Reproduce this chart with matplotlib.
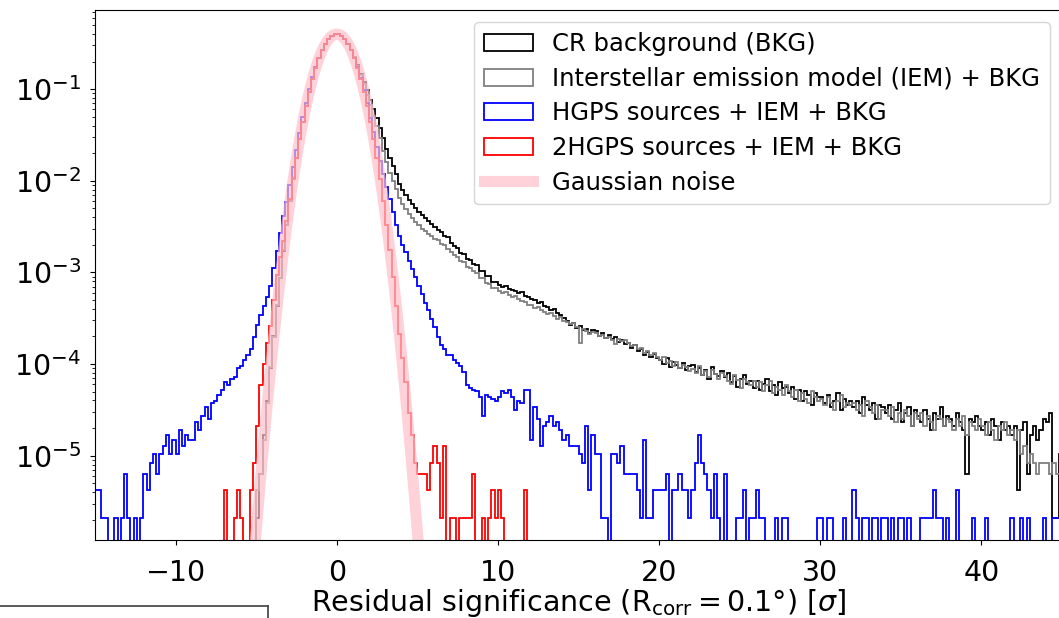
import numpy as np
import matplotlib
matplotlib.use("Agg")
import matplotlib.pyplot as plt
from matplotlib.lines import Line2D

plt.rcParams["font.size"] = 20.5

# histogram binning (significance, 0.2 sigma bins)
bin_edges = np.round(np.arange(-15.0, 45.0001, 0.2), 1)
density_per_count = 2.1e-6

# counts per bin
black_counts = (
    [0] * 49
    + [0, 1, 3, 8, 19, 43, 96, 205, 418, 822, 1560, 2841, 4970, 8355, 13500,
       20950, 31250, 44790, 61680, 81610, 103740, 126710, 148690, 167650, 181610, 189020]
    + [189020, 181610, 167850, 149290, 127910, 106140, 86370, 70250, 57170, 46010,
       36650, 29200, 23110, 17820, 13790, 10610, 8440, 6850, 5680, 4385,
       3800, 3350, 2960, 2675, 2380]
    + [2190, 2012, 1848, 1725, 1603, 1496, 1371, 1302, 1195, 1150, 1008, 922, 871,
       781, 752, 668, 655, 588, 571, 497, 492, 438, 431, 378, 372]
    + [348, 331, 339, 312, 305, 296, 281, 290, 266, 259,
       244, 238, 221, 226, 205, 198, 187, 190, 171, 162,
       153, 141, 128, 135, 119, 124, 112, 116, 104, 111,
       108, 97, 104, 92, 99, 89, 94, 83, 88, 79,
       80, 72, 76, 66, 69, 60, 64, 57, 61, 55,
       52, 48, 56, 44, 50, 47, 43, 49, 41, 45,
       46, 39, 43, 36, 41, 33, 44, 37, 35, 40,
       34, 38, 30, 35, 27, 33, 36, 29, 31, 26,
       31, 25, 29, 33, 24, 28, 22, 30, 26, 27,
       23, 27, 20, 25, 19, 24, 22, 17, 23, 21,
       21, 18, 22, 16, 19, 23, 15, 20, 17, 19,
       16, 19, 14, 21, 17, 15, 18, 12, 17, 16,
       14, 17, 12, 15, 18, 11, 14, 16, 10, 15,
       13, 11, 15, 12, 9, 14, 12, 16, 10, 13,
       12, 10, 14, 11, 9, 3, 12, 11, 13, 10,
       9, 11, 8, 12, 10, 7, 11, 9, 10, 8,
       10, 2, 9, 11, 3, 8, 10, 7, 9, 12,
       11, 14, 1, 1, 5]
)

gray_counts = (
    [0] * 49
    + [0, 2, 3, 7, 18, 44, 93, 208, 411, 829, 1549, 2852, 4955, 8371, 13480,
       20960, 31230, 44810, 61650, 81630, 103710, 126740, 148660, 167680, 181590, 189050]
    + [189030, 181600, 167790, 149110, 127550, 105420, 84900, 67680, 53490, 41550,
       31940, 24490, 18650, 13960, 10135, 7556, 5820, 4716, 3902, 3095,
       2642, 2318, 2058, 1853, 1681]
    + [1572, 1431, 1362, 1238, 1190, 1094, 1061, 978, 952, 866, 801, 728, 702,
       631, 611, 549, 534, 487, 470, 418, 409, 368, 356, 324, 318]
    + [301, 284, 292, 268, 259, 263, 241, 233, 226, 211,
       208, 196, 201, 183, 177, 169, 172, 158, 149, 154,
       141, 136, 129, 133, 121, 80, 116, 109, 101, 107,
       103, 96, 99, 91, 94, 87, 79, 90, 84, 86,
       80, 74, 77, 69, 71, 63, 66, 60, 62, 57,
       53, 57, 49, 51, 45, 50, 43, 47, 44, 40,
       42, 38, 45, 36, 40, 34, 41, 37, 33, 38,
       35, 31, 29, 36, 32, 26, 33, 30, 28, 31,
       27, 30, 24, 28, 31, 23, 27, 25, 22, 28,
       24, 21, 25, 19, 23, 20, 18, 24, 21, 19,
       20, 17, 21, 18, 15, 19, 22, 16, 18, 17,
       18, 15, 17, 13, 19, 16, 14, 17, 12, 15,
       15, 13, 16, 11, 14, 12, 15, 13, 10, 14,
       12, 14, 10, 13, 11, 9, 13, 12, 10, 12,
       11, 9, 12, 10, 13, 8, 11, 10, 9, 12,
       10, 8, 11, 9, 7, 10, 9, 11, 8, 9,
       7, 9, 5, 6, 4, 5, 4, 3, 4, 4,
       4, 3, 4, 3, 3]
)

blue_counts = (
    [2, 2, 1, 1, 0, 0, 1, 0, 1, 3, 1, 0, 1, 0, 1, 3, 2, 4, 5, 3,
     5, 6, 8, 5, 7, 5, 9, 6, 8, 7, 7, 11, 9, 13, 16, 12, 18, 19, 22, 25,
     30, 28, 33, 34, 43, 45, 52, 60, 70]
    + [95, 126, 163, 203, 258, 342, 525, 822, 1266, 1970, 2806, 4235, 6660,
       10350, 15800, 23400, 33950, 47300, 63900, 83400, 105100, 127700, 149300,
       167950, 181700, 189030]
    + [189030, 181700, 167900, 149200, 127500, 104900, 83300, 63600, 46900, 33600,
       23300, 16200, 11200, 7900, 5600, 4100, 3000, 2150, 1570, 1200,
       950, 790, 640, 520, 424, 340, 276, 221, 183, 148,
       121, 94, 77, 70, 60, 59, 53, 49, 45, 39,
       28, 26, 25, 24, 21, 13, 22, 21, 20, 19]
    + [21, 24, 23, 25, 21, 15, 19, 18, 25, 25,
       7, 16, 12, 6, 10, 11, 13, 10, 11, 9,
       7, 8, 6, 6, 6, 5, 4, 10, 2, 8,
       5, 5, 1, 1, 0, 5, 5, 4]
    + [6, 3, 3, 3, 3, 2, 1, 7, 1, 1, 2, 2, 2, 2, 3, 0, 2, 2, 3, 2,
       2, 1, 2, 4, 8, 4, 3, 2, 1, 3, 1, 0, 3, 0, 0, 0, 1, 1, 2, 0,
       1, 1, 2, 1, 1, 0, 0, 0, 1, 0, 1, 1, 0, 0, 0, 0, 0, 0, 0, 0,
       0, 1]
    + [1, 0, 1, 1, 0, 0, 0, 1, 0, 0, 2, 1, 0, 1, 1, 0, 1, 1, 0, 1,
       1, 0, 1, 0, 1, 1, 0, 1, 0, 0, 0, 1, 1, 1, 1, 2, 1, 1, 0, 1,
       0, 0, 2, 0, 0, 0, 0, 1, 0, 0, 0, 1, 0, 0, 0, 0, 0, 0, 0, 1,
       0, 0, 1, 0, 1, 0, 0, 0, 0, 1, 0, 0, 1, 1, 1]
)

red_counts = (
    [0] * 40
    + [2, 0, 0, 1, 2, 1, 0, 0, 2, 4, 10, 28, 48, 80, 125, 240, 450, 700, 1050, 1750,
       3000, 5100, 8450, 13550, 21000, 31300, 44800, 61700, 81600, 103700,
       126700, 148700, 167600, 181600, 189000]
    + [189000, 181600, 167700, 148700, 126700, 103800, 81600, 61700, 44800, 31300,
       21000, 13550, 8400, 5000, 2850, 1570, 830, 420, 205, 100,
       55, 30, 14, 8, 4, 3, 3, 3, 2, 4, 6, 4, 1, 6, 0, 1, 1, 0, 1, 1,
       1, 1, 3, 0, 0, 1, 0, 1, 2, 1, 2, 1, 0, 0, 0, 0, 0, 0, 2]
    + [0] * 166
)

# reference Gaussian noise curve
gauss_x = [-5.2, -5.0, -4.8, -4.6, -4.4, -4.2, -4.0, -3.8, -3.6, -3.4, -3.2, -3.0, -2.8,
           -2.6, -2.4, -2.2, -2.0, -1.8, -1.6, -1.4, -1.2, -1.0, -0.8, -0.6, -0.4, -0.2,
           0.0, 0.2, 0.4, 0.6, 0.8, 1.0, 1.2, 1.4, 1.6, 1.8, 2.0, 2.2, 2.4, 2.6, 2.8,
           3.0, 3.2, 3.4, 3.6, 3.8, 4.0, 4.2, 4.4, 4.6, 4.8, 5.0, 5.2]
gauss_y = [5.4e-7, 1.49e-6, 3.96e-6, 1.01e-5, 2.49e-5, 5.89e-5, 1.34e-4, 2.92e-4,
           6.12e-4, 1.23e-3, 2.38e-3, 4.43e-3, 7.92e-3, 1.36e-2, 2.24e-2, 3.55e-2,
           5.40e-2, 7.90e-2, 0.1109, 0.1497, 0.1942, 0.2420, 0.2897, 0.3332, 0.3683,
           0.3910, 0.3989, 0.3910, 0.3683, 0.3332, 0.2897, 0.2420, 0.1942, 0.1497,
           0.1109, 7.90e-2, 5.40e-2, 3.55e-2, 2.24e-2, 1.36e-2, 7.92e-3, 4.43e-3,
           2.38e-3, 1.23e-3, 6.12e-4, 2.92e-4, 1.34e-4, 5.89e-5, 2.49e-5, 1.01e-5,
           3.96e-6, 1.49e-6, 5.4e-7]

labels = ["CR background (BKG)",
          "Interstellar emission model (IEM) + BKG",
          "HGPS sources + IEM + BKG",
          "2HGPS sources + IEM + BKG"]
colors = ["black", "gray", "blue", "red"]

for c in (black_counts, gray_counts, blue_counts, red_counts):
    assert len(c) == len(bin_edges) - 1, len(c)

centers = 0.5 * (bin_edges[:-1] + bin_edges[1:])

fig = plt.figure(figsize=(10.59, 6.18), dpi=100)
ax = fig.add_axes([95 / 1059, 78 / 618, 967 / 1059, 530 / 618])

for counts, col, lab in zip([black_counts, gray_counts, blue_counts, red_counts],
                            colors, labels):
    w = np.array(counts, dtype=float) * density_per_count
    ax.hist(centers, bins=bin_edges, weights=w, histtype="step",
            color=col, lw=1.3, label=lab, log=True)

ax.plot(gauss_x, gauss_y, color="pink", lw=8, alpha=0.7, label="Gaussian noise")

ax.set_xlim(-15, 45)
ax.set_ylim(1.2e-6, 0.73)
ax.set_xticks([-10, 0, 10, 20, 30, 40])
ax.tick_params(axis="x", pad=10)
ax.tick_params(axis="y", pad=6.5)
ax.set_xlabel(r"Residual significance ($\mathrm{R_{corr} = 0.1°}$) [$\sigma$]", labelpad=0)
ax.legend(loc="upper right", labelspacing=0.44, fontsize=17.5)

# edge of a neighbouring box visible in the screenshot
fig.add_artist(Line2D([0, 268 / 1059], [12 / 618, 12 / 618], color="0.25", lw=1.2))
fig.add_artist(Line2D([268 / 1059, 268 / 1059], [0, 12 / 618], color="0.25", lw=1.2))

fig.savefig("out.png", dpi=100)
